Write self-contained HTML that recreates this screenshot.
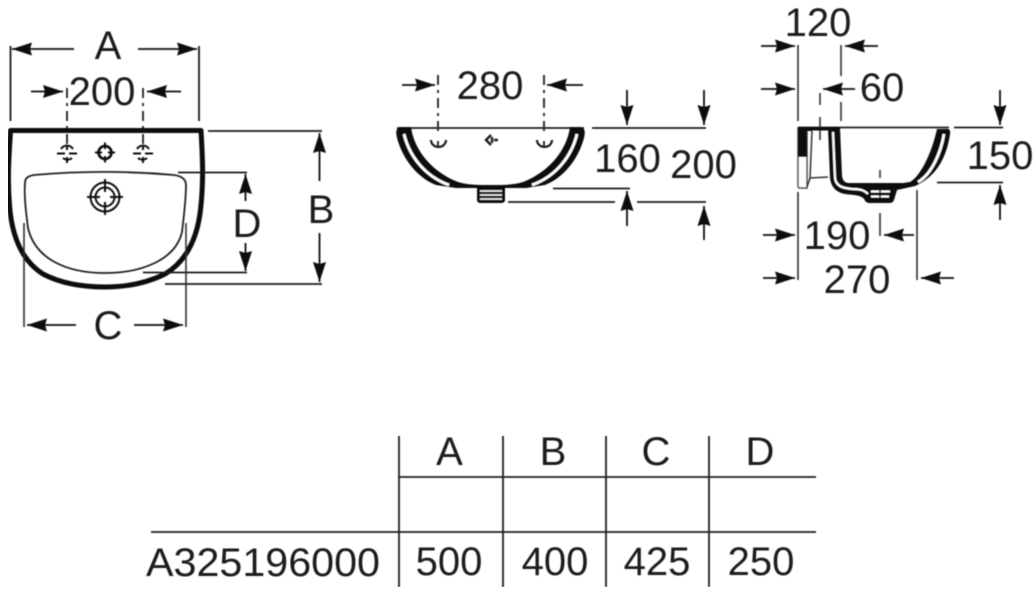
<!DOCTYPE html>
<html><head><meta charset="utf-8">
<style>
html,body{margin:0;padding:0;background:#fff;width:1034px;height:600px;overflow:hidden}
svg{display:block}
text{font-family:"Liberation Sans",sans-serif;fill:#1c1c1c;font-size:40px}
.d{stroke:#1c1c1c;stroke-width:1.8;fill:none}
.a{stroke:#111;stroke-width:1.8;fill:none;marker-end:url(#ah)}
.dash{stroke:#222;stroke-width:1.8;fill:none;stroke-dasharray:10 5 3 5}
.g{stroke:#333;stroke-width:1.6;fill:none}
.t{stroke:#222;stroke-width:1.8;fill:none}
</style></head><body>
<svg width="1034" height="600" viewBox="0 0 1034 600" xmlns="http://www.w3.org/2000/svg">
<defs>
<marker id="ah" markerUnits="userSpaceOnUse" markerWidth="22" markerHeight="16" refX="20" refY="7.5" orient="auto">
<path d="M0 1 L20 7.5 L0 14 L2 7.5Z" fill="#0c0c0c"/>
</marker>
<filter id="b" x="0" y="0" width="100%" height="100%"><feGaussianBlur stdDeviation="0.5"/></filter>
</defs>
<g filter="url(#b)">
<!-- FRONT VIEW -->
<path d="M10.5 121V46M199 121V46" class="d"/>
<path d="M74 49H12" class="a"/><path d="M138 49H197" class="a"/>
<text x="108" y="59" text-anchor="middle">A</text>
<path d="M31 91.5H63" class="a"/><path d="M181 91.5H147" class="a"/>
<path d="M67 88V147M143 88V147" class="dash"/>
<text x="102" y="105" text-anchor="middle">200</text>
<path d="M10.5 130.500H201 C202 150 204 175 201 205 C198 240 185 262 165 274 C145 284 125 287 105 287 C85 287 62 284 43 274 C24 262 12 240 9.500 205 C7 175 9.500 150 10.500 130.500Z" fill="none" stroke="#0a0a0a" stroke-width="5" stroke-linejoin="round"/>
<path d="M25 183 C25 178 28 176 34 175 C80 171 130 171 174 175 C181 176 186 179 186 185 C186 200 184 215 182 232 C176 258 145 273 105 273 C65 273 35 258 28 228 C26 212 24 197 25 183Z" fill="none" stroke="#222" stroke-width="1.800"/>
<!-- taps -->
<g stroke="#111" fill="none" stroke-width="2">
<path d="M57 153.500H65M69 153.500H77M67 145V150M67 157V163M61 149A7 7 0 0 1 73 149M63 158A7 7 0 0 0 72 158"/>
<path d="M133 153.500H141M145 153.500H153M143 145V150M143 157V163M137 149A7 7 0 0 1 149 149M138 158A7 7 0 0 0 147 158"/>
<circle cx="105" cy="152.500" r="6.500" stroke-width="2.600"/>
<path d="M95 152.500H102M108 152.500H115M105 142.500V149M105 156V162.500"/>
<circle cx="105" cy="197" r="14.500" stroke-width="2"/><circle cx="105" cy="197" r="9.500" stroke-width="2"/>
<path d="M87 197H100M110 197H123M105 179V192M105 202V215"/>
</g>
<path d="M178 172.500H247M143 272.500H247" class="d"/>
<path d="M245.500 201V174" class="a"/><path d="M245.500 243V271" class="a"/>
<text x="247" y="237" text-anchor="middle">D</text>
<path d="M208 131H322M165 284H322" class="d"/>
<path d="M319.500 181V133" class="a"/><path d="M319.500 233V282" class="a"/>
<text x="321" y="223" text-anchor="middle">B</text>
<path d="M24 223V327M186 223V327" class="g"/>
<path d="M76 325H27" class="a"/><path d="M134 325H183" class="a"/>
<text x="108" y="339" text-anchor="middle">C</text>

<!-- MIDDLE VIEW -->
<path d="M402 85H435" class="a"/><path d="M583 85H547" class="a"/>
<path d="M438 75V135M544 75V135" class="dash"/>
<text x="490" y="99" text-anchor="middle">280</text>
<path d="M397 128H584" stroke="#222" stroke-width="1.800" fill="none"/>
<path d="M401 127 H411 C414 150 432 172 458 182 C468 185 477 185 491 185 C505 185 513 185 523 182 C549 172 567 150 570 127 H580 C586 128 585 133 584 138 C578 160 563 178 545 185 L526 188 L505 188 L505 200 Q505 203 501 203 L481 203 Q477 203 477 200 L477 188 L456 188 L436 185 C418 178 403 160 397 138 C396 133 395 128 401 127Z" fill="#0b0b0b"/>
<path d="M404 134 C409 155 424 176 449 185" stroke="#fff" stroke-width="2.800" fill="none"/>
<path d="M577 134 C572 155 557 176 532 185" stroke="#fff" stroke-width="2.800" fill="none"/>
<path d="M480 191H502M480 195H502M480 199H502" stroke="#fff" stroke-width="1.600" fill="none"/>
<g stroke="#1a1a1a" fill="none" stroke-width="2.200">
<path d="M431 140A7 6.500 0 0 0 446 140"/>
<path d="M537 140A7 6.500 0 0 0 552 140"/>
<path d="M438 141V147M544 141V147" stroke-width="1.800"/>
<path d="M491 135L486 140L491 145M492 137V143M494 140H498" stroke-width="2.400"/>
</g>
<path d="M592 128H706" class="d"/>
<path d="M627 90V125" class="a"/><path d="M704 90V125" class="a"/>
<path d="M553 188.500H630M508 202H615M637 202H706" class="d"/>
<path d="M627 226V191" class="a"/><path d="M704 240V206" class="a"/>
<text x="627.500" y="172" text-anchor="middle">160</text>
<text x="703.500" y="178" text-anchor="middle">200</text>

<!-- SIDE VIEW -->
<path d="M798 45V121M841 45V76M841 102V121" class="g"/>
<path d="M761 46H795" class="a"/><path d="M878 46H845" class="a"/>
<text x="818" y="36" text-anchor="middle">120</text>
<path d="M761 89H795" class="a"/><path d="M855 89H823" class="a"/>
<path d="M820 93V105M820 117V140" class="g"/>
<text x="882" y="101" text-anchor="middle">60</text>
<path d="M798 127.500H949" stroke="#222" stroke-width="1.800" fill="none"/>
<!-- back plate -->
<path d="M798 128H807V188H800Q798 188 798 186Z" fill="#fff" stroke="#444" stroke-width="1.500"/>
<path d="M798 127H812V131H807V157H798Z" fill="#0b0b0b"/>
<path d="M812 131L810 178L807 187M810 178L828 177" stroke="#333" stroke-width="1.500" fill="none"/>
<path d="M806 127H840V130.500H806Z" fill="#111"/>
<!-- bowl -->
<path d="M828 128 H840 L842 176 Q843 183 849 183 H903 L910 182 C921 176 932 152 937 129 H946 Q951 128 950 134 C947 155 938 176 915 186 L897 190 L894 200 Q893 203 889 203 H869 Q866 203 864 199 C861 195 853 195 845 194 C835 192 831 186 830 178Z" fill="#0b0b0b"/>
<path d="M833 132 L835 178 C836 186 842 188 852 189 C860 189 864 190 868 194" stroke="#fff" stroke-width="2.200" fill="none"/>
<path d="M944 134 C941 152 932 174 918 182" stroke="#fff" stroke-width="2.800" fill="none"/>
<path d="M871 191.500H890M871 196.500H889" stroke="#fff" stroke-width="2" fill="none"/>
<path d="M880 187V202" stroke="#111" stroke-width="1.500"/>
<path d="M880 170V178M880 213V236" class="g"/>
<path d="M954 127.500H1003M937 182.500H1003" class="d"/>
<path d="M1000 90V125" class="a"/><path d="M1000 220V185" class="a"/>
<text x="1000" y="169" text-anchor="middle">150</text>
<path d="M798 192V280M917 190V280" class="g"/>
<path d="M763 235H795" class="a"/><path d="M914 235H884" class="a"/>
<text x="837" y="249" text-anchor="middle">190</text>
<path d="M763 278H795" class="a"/><path d="M954 278H921" class="a"/>
<text x="857" y="293" text-anchor="middle">270</text>

<!-- TABLE -->
<path d="M399 436V587M503 436V587M606 436V587M709 436V587" class="t"/>
<path d="M399 477H816M151 532H816" class="t"/>
<text x="449.500" y="465" text-anchor="middle">A</text>
<text x="553" y="465" text-anchor="middle">B</text>
<text x="656" y="465" text-anchor="middle">C</text>
<text x="760" y="465" text-anchor="middle">D</text>
<text x="146" y="576" textLength="234" lengthAdjust="spacingAndGlyphs">A325196000</text>
<text x="449" y="575" text-anchor="middle">500</text>
<text x="555" y="575" text-anchor="middle">400</text>
<text x="657" y="575" text-anchor="middle">425</text>
<text x="761" y="575" text-anchor="middle">250</text>
</g>
</svg>
</body></html>
